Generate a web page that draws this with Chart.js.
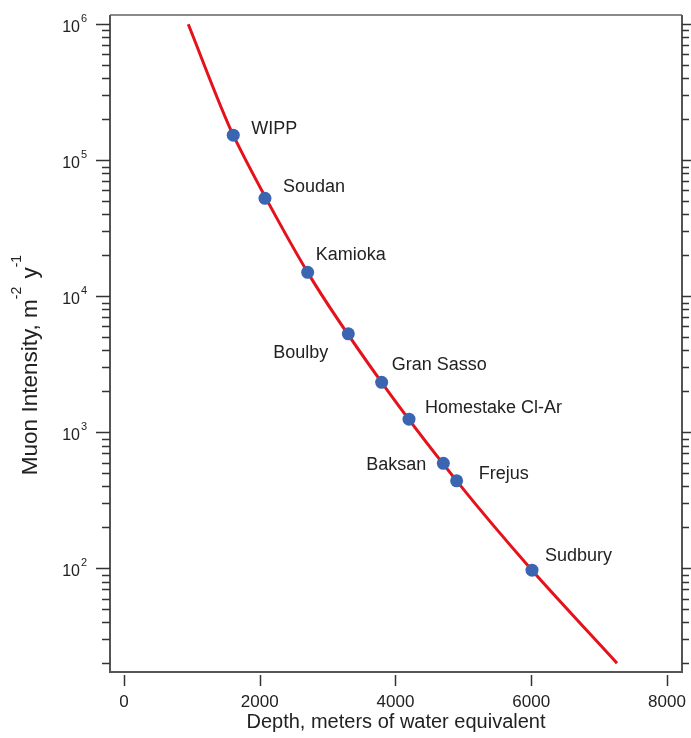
<!DOCTYPE html>
<html>
<head>
<meta charset="utf-8">
<script src="https://cdn.jsdelivr.net/npm/chart.js@4"></script>
<style>
  body { margin: 0; background: #fff; }
  #wrap { width: 691px; height: 738px; }
</style>
</head>
<body>
<div id="wrap"><canvas id="chart"></canvas></div>
<script>
// Underground labs: depth (m.w.e.) and muon intensity (m^-2 y^-1)
const siteNames = ['WIPP', 'Soudan', 'Kamioka', 'Boulby', 'Gran Sasso', 'Homestake Cl-Ar', 'Baksan', 'Frejus', 'Sudbury'];
const siteDepth = [1610, 2077, 2706, 3305, 3796, 4199, 4705, 4901, 6011];
const siteIntensity = [1.53e5, 5.25e4, 1.5e4, 5.3e3, 2.33e3, 1.25e3, 592, 440, 97];

// red fit curve
const curveDepth = [947, 1610, 2706, 3796, 4901, 6011, 7263];
const curveIntensity = [1.0e6, 1.53e5, 1.5e4, 2.33e3, 440, 97, 20.1];

// axis ticks
const xTicks = [0, 2000, 4000, 6000, 8000];
const yDecades = [100, 1000, 10000, 100000, 1000000];
const yExponents = ['2', '3', '4', '5', '6'];

// label placement next to each point (px offset, alignment)
const labelOffsets = [[18, -6], [18, -11], [8, -17], [-20, 19], [10, -17], [16, -11], [-17, 2], [22, -7], [13, -14]];
const labelAlign = ['left', 'left', 'left', 'right', 'left', 'left', 'right', 'left', 'left'];

const FONT = "'Liberation Sans', Arial, Helvetica, sans-serif";

const decorPlugin = {
    id: 'decor',
    afterDraw(chart) {
        const ctx = chart.ctx;
        const a = chart.chartArea;
        const x = chart.scales.x;
        const y = chart.scales.y;
        ctx.save();

        // frame
        ctx.lineWidth = 2;
        ctx.strokeStyle = '#8a8a8a';
        ctx.beginPath();
        ctx.moveTo(a.left, a.top);
        ctx.lineTo(a.right, a.top);
        ctx.stroke();
        ctx.strokeStyle = '#555';
        ctx.beginPath();
        ctx.moveTo(a.left, a.top);
        ctx.lineTo(a.left, a.bottom);
        ctx.lineTo(a.right, a.bottom);
        ctx.lineTo(a.right, a.top);
        ctx.stroke();

        // y ticks, left and right, major and minor
        ctx.strokeStyle = '#333';
        ctx.lineWidth = 1.5;
        for (let e = 1; e <= 6; e++) {
            for (let m = 1; m <= 9; m++) {
                const v = m * Math.pow(10, e);
                if (v < y.min || v > y.max) continue;
                const py = Math.round(y.getPixelForValue(v)) + 0.5;
                const len = m === 1 ? 14 : 8;
                ctx.beginPath();
                ctx.moveTo(a.left - len, py);
                ctx.lineTo(a.left, py);
                ctx.moveTo(a.right, py);
                ctx.lineTo(a.right + (m === 1 ? 10 : 7), py);
                ctx.stroke();
            }
        }

        // x ticks, set below the axis
        xTicks.forEach(v => {
            const px = Math.round(x.getPixelForValue(v)) + 0.5;
            ctx.beginPath();
            ctx.moveTo(px, a.bottom + 3);
            ctx.lineTo(px, a.bottom + 14);
            ctx.stroke();
        });

        // y tick labels: 10 with superscript exponent
        ctx.fillStyle = '#222';
        ctx.textBaseline = 'alphabetic';
        yDecades.forEach((v, i) => {
            const py = y.getPixelForValue(v);
            ctx.font = '16px ' + FONT;
            ctx.textAlign = 'right';
            ctx.fillText('10', 80, py + 7.5);
            ctx.font = '11px ' + FONT;
            ctx.textAlign = 'left';
            ctx.fillText(yExponents[i], 81, py - 2.5);
        });

        // y axis title with superscripts, rotated
        const parts = [
            ['Muon Intensity, m', 22.5, 0],
            ['-2', 14, -16],
            [' y', 22.5, 0],
            ['-1', 14, -16]
        ];
        let total = 0;
        parts.forEach(p => {
            ctx.font = p[1] + 'px ' + FONT;
            total += ctx.measureText(p[0]).width;
        });
        ctx.translate(37, 366);
        ctx.rotate(-Math.PI / 2);
        ctx.textAlign = 'left';
        let cx = -total / 2;
        parts.forEach(p => {
            ctx.font = p[1] + 'px ' + FONT;
            ctx.fillText(p[0], cx, p[2]);
            cx += ctx.measureText(p[0]).width + (p[1] < 20 ? 2 : 0);
        });
        ctx.setTransform(1, 0, 0, 1, 0, 0);

        // site labels
        ctx.font = '18px ' + FONT;
        ctx.textBaseline = 'middle';
        siteNames.forEach((name, i) => {
            const px = x.getPixelForValue(siteDepth[i]);
            const py = y.getPixelForValue(siteIntensity[i]);
            ctx.textAlign = labelAlign[i];
            ctx.fillText(name, px + labelOffsets[i][0], py + labelOffsets[i][1]);
        });

        ctx.restore();
    }
};

const ctx = document.getElementById('chart');
new Chart(ctx, {
    type: 'scatter',
    data: {
        datasets: [
            {
                label: 'Sites',
                data: siteDepth.map((d, i) => ({ x: d, y: siteIntensity[i] })),
                backgroundColor: '#3c65b1',
                borderWidth: 0,
                pointRadius: 6.5,
                pointHoverRadius: 6.5,
                order: 0
            },
            {
                label: 'Fit',
                type: 'line',
                data: curveDepth.map((d, i) => ({ x: d, y: curveIntensity[i] })),
                borderColor: '#e5121c',
                borderWidth: 3,
                pointRadius: 0,
                tension: 0.25,
                fill: false,
                order: 1
            }
        ]
    },
    options: {
        responsive: true,
        maintainAspectRatio: false,
        animation: false,
        layout: { padding: { left: 0, right: 9, top: 15, bottom: 0 } },
        plugins: {
            legend: { display: false },
            tooltip: { enabled: false }
        },
        scales: {
            x: {
                type: 'linear',
                min: -206,
                max: 8221,
                grid: { display: false },
                border: { display: false },
                afterBuildTicks: s => { s.ticks = xTicks.map(v => ({ value: v })); },
                ticks: {
                    padding: 12,
                    color: '#222',
                    font: { size: 17, family: FONT },
                    maxRotation: 0,
                    autoSkip: false,
                    callback: v => String(v)
                },
                title: {
                    display: true,
                    text: 'Depth, meters of water equivalent',
                    color: '#222',
                    font: { size: 20, family: FONT },
                    padding: { top: 0, bottom: 4 }
                },
                afterFit: s => {
                    s.height = 66;
                    s.paddingLeft = 0;
                    s.paddingRight = 0;
                }
            },
            y: {
                type: 'logarithmic',
                min: 17.3,
                max: 1.17e6,
                grid: { display: false },
                border: { display: false },
                ticks: { display: false },
                afterFit: s => { s.width = 110; }
            }
        }
    },
    plugins: [decorPlugin]
});
</script>
</body>
</html>
